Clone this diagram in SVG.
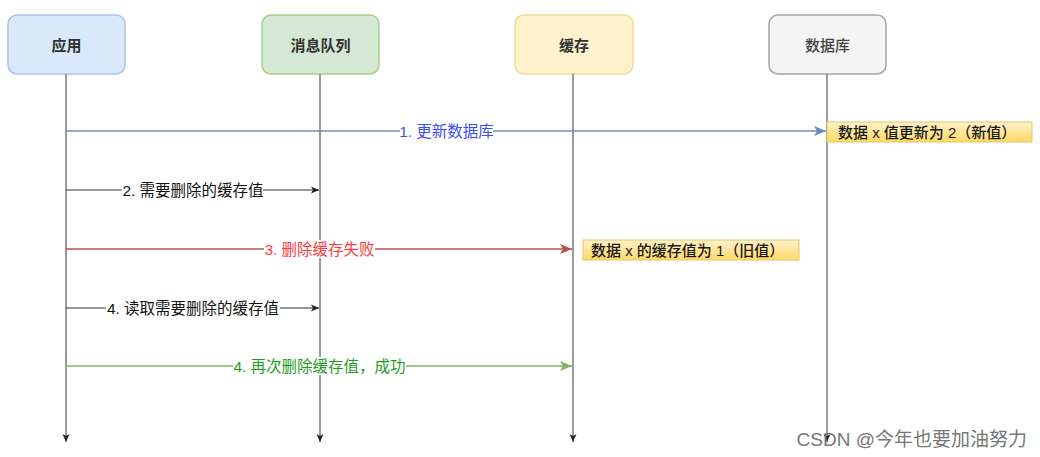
<svg xmlns="http://www.w3.org/2000/svg" width="1040" height="457" viewBox="0 0 1040 457">
<style>
text{font-family:"Liberation Sans","Noto Sans CJK SC",sans-serif;}
.title{font-size:15px;font-weight:600;fill:#333;text-anchor:middle;dominant-baseline:central;}
.lbl{font-size:15.5px;text-anchor:middle;dominant-baseline:central;}
.note-t{font-size:15px;fill:#1a1a1a;font-weight:500;dominant-baseline:central;}
.life{stroke:#7a7a7a;stroke-width:1.5;fill:none;}
.bg{fill:#fff;}
.note{fill:url(#ng);stroke:#e6c560;stroke-width:1;}
</style>
<defs>
<linearGradient id="ng" x1="0" y1="0" x2="0" y2="1">
<stop offset="0" stop-color="#fff2cc"/>
<stop offset="1" stop-color="#ffd966"/>
</linearGradient>
<marker id="ak" markerWidth="10" markerHeight="10" refX="9" refY="5" orient="auto" markerUnits="userSpaceOnUse"><path d="M1,1.5 L9,5 L1,8.5 L3,5 Z" fill="#222"/></marker>
<marker id="ab" markerWidth="14" markerHeight="12" refX="13" refY="6" orient="auto" markerUnits="userSpaceOnUse"><path d="M1,1 L13,6 L1,11 L4,6 Z" fill="#6c8ebf"/></marker>
<marker id="ar" markerWidth="14" markerHeight="12" refX="13" refY="6" orient="auto" markerUnits="userSpaceOnUse"><path d="M1,1 L13,6 L1,11 L4,6 Z" fill="#b85450"/></marker>
<marker id="ag" markerWidth="14" markerHeight="12" refX="13" refY="6" orient="auto" markerUnits="userSpaceOnUse"><path d="M1,1 L13,6 L1,11 L4,6 Z" fill="#82b366"/></marker>
</defs>
<rect width="1040" height="457" fill="#fff"/>

<g id="node-app">
<rect x="8" y="15" width="117" height="59" rx="9" fill="#dae8fc" stroke="#a9c4ea" stroke-width="1.5"/>
<text class="title" x="66.5" y="45">应用</text>
</g>
<g id="node-mq">
<rect x="262" y="15" width="117" height="59" rx="9" fill="#d5e8d4" stroke="#a8d08d" stroke-width="1.5"/>
<text class="title" x="320.5" y="45">消息队列</text>
</g>
<g id="node-cache">
<rect x="515" y="15" width="118" height="59" rx="9" fill="#fff2cc" stroke="#f1dc93" stroke-width="1.5"/>
<text class="title" x="574" y="45">缓存</text>
</g>
<g id="node-db">
<rect x="769" y="15" width="117" height="59" rx="9" fill="#f5f5f5" stroke="#a6a6a6" stroke-width="1.5"/>
<text class="title" x="827.5" y="45" style="font-weight:500;fill:#444">数据库</text>
</g>

<g id="connectors">
<line class="life" x1="66" y1="74" x2="66" y2="442" marker-end="url(#ak)"/>
<line class="life" x1="320" y1="74" x2="320" y2="442" marker-end="url(#ak)"/>
<line class="life" x1="573" y1="74" x2="573" y2="442" marker-end="url(#ak)"/>
<line class="life" x1="827" y1="74" x2="827" y2="442" marker-end="url(#ak)"/>

<line x1="66" y1="131" x2="826" y2="131" stroke="#6c8ebf" stroke-width="1.5" marker-end="url(#ab)"/>
<rect class="bg" x="400" y="122" width="93" height="18"/>
<text class="lbl" x="446.5" y="131" fill="#3a4dfb">1. 更新数据库</text>

<line x1="66" y1="190" x2="319" y2="190" stroke="#333" stroke-width="1" marker-end="url(#ak)"/>
<rect class="bg" x="122" y="181" width="141" height="18"/>
<text class="lbl" x="193" y="190" fill="#111">2. 需要删除的缓存值</text>

<line x1="66" y1="249" x2="572" y2="249" stroke="#b85450" stroke-width="1.5" marker-end="url(#ar)"/>
<rect class="bg" x="264" y="240" width="111" height="18"/>
<text class="lbl" x="319.5" y="249" fill="#ff3b3b">3. 删除缓存失败</text>

<line x1="66" y1="308" x2="319" y2="308" stroke="#333" stroke-width="1" marker-end="url(#ak)"/>
<rect class="bg" x="106" y="299" width="174" height="18"/>
<text class="lbl" x="193" y="308" fill="#111">4. 读取需要删除的缓存值</text>

<line x1="66" y1="366" x2="572" y2="366" stroke="#82b366" stroke-width="1.5" marker-end="url(#ag)"/>
<rect class="bg" x="233" y="357" width="173" height="18"/>
<text class="lbl" x="319.5" y="366" fill="#1e9e1e">4. 再次删除缓存值，成功</text>
</g>

<g id="note-db">
<rect class="note" x="827" y="122" width="205" height="20"/>
<text class="note-t" x="838" y="132">数据 x 值更新为 2（新值）</text>
</g>
<g id="note-cache">
<rect class="note" x="583" y="240" width="216" height="20"/>
<text class="note-t" x="591" y="250">数据 x 的缓存值为 1（旧值）</text>
</g>

<text x="1027" y="439" style="font-size:19px;fill:#777;text-anchor:end;dominant-baseline:central;font-family:'Liberation Sans','Noto Sans CJK SC',sans-serif">CSDN @今年也要加油努力</text>
</svg>
